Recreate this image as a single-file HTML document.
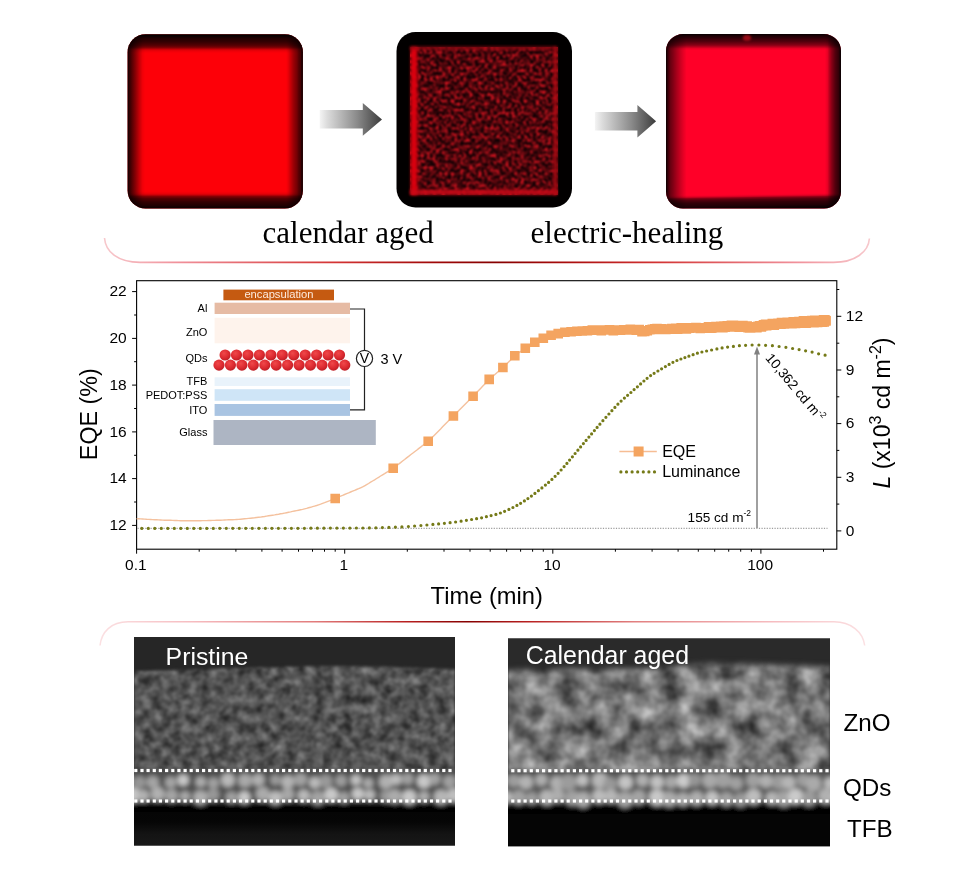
<!DOCTYPE html>
<html><head><meta charset="utf-8"><title>figure</title>
<style>
html,body{margin:0;padding:0;background:#fff;}
body{width:964px;height:877px;overflow:hidden;position:relative;}
svg{position:absolute;left:0;top:0;display:block;}
text{font-family:"Liberation Sans",Arial,sans-serif;fill:#000;}
.serif{font-family:"Liberation Serif","Times New Roman",serif;}
</style></head><body>
<svg width="964" height="877" viewBox="0 0 964 877">
<defs>

<linearGradient id="arr" x1="0" x2="1" y1="0" y2="0"><stop offset="0" stop-color="#f4f4f4"/><stop offset="0.12" stop-color="#dcdcdc"/><stop offset="0.6" stop-color="#8a8a8a"/><stop offset="1" stop-color="#3c3c3c"/></linearGradient>
<linearGradient id="brk" x1="0" x2="1" y1="0" y2="0"><stop offset="0" stop-color="#f7c8cc"/><stop offset="0.1" stop-color="#f08e98"/><stop offset="0.3" stop-color="#d43434"/><stop offset="0.43" stop-color="#a00808"/><stop offset="0.51" stop-color="#860000"/><stop offset="0.6" stop-color="#a80c0c"/><stop offset="0.72" stop-color="#d23232"/><stop offset="0.9" stop-color="#f08e98"/><stop offset="1" stop-color="#f7c8cc"/></linearGradient>
<linearGradient id="brk2" x1="0" x2="1" y1="0" y2="0"><stop offset="0" stop-color="#fbe0e2"/><stop offset="0.12" stop-color="#f6bcc0"/><stop offset="0.28" stop-color="#e27c7c"/><stop offset="0.4" stop-color="#b82020"/><stop offset="0.48" stop-color="#860000"/><stop offset="0.56" stop-color="#b82020"/><stop offset="0.7" stop-color="#e28080"/><stop offset="0.88" stop-color="#f6bcc0"/><stop offset="1" stop-color="#fbe0e2"/></linearGradient>
<radialGradient id="ball" cx="0.4" cy="0.35" r="0.7"><stop offset="0" stop-color="#f0484a"/><stop offset="0.6" stop-color="#dc2a30"/><stop offset="1" stop-color="#b81c24"/></radialGradient>
<filter id="blur35" x="-20%" y="-20%" width="140%" height="140%" color-interpolation-filters="sRGB"><feGaussianBlur stdDeviation="3.5"/></filter>
<filter id="blur45" x="-20%" y="-20%" width="140%" height="140%" color-interpolation-filters="sRGB"><feGaussianBlur stdDeviation="4.2"/></filter>
<filter id="blur1" x="-20%" y="-20%" width="140%" height="140%" color-interpolation-filters="sRGB"><feGaussianBlur stdDeviation="1"/></filter>
<filter id="blur5" x="-30%" y="-60%" width="160%" height="220%" color-interpolation-filters="sRGB"><feGaussianBlur stdDeviation="3"/></filter>
<filter id="blur2" x="-30%" y="-60%" width="160%" height="220%" color-interpolation-filters="sRGB"><feGaussianBlur stdDeviation="1.6"/></filter>
<clipPath id="c1"><rect x="127.6" y="34.2" width="175.3" height="174.4" rx="18"/></clipPath>
<clipPath id="c2"><rect x="396.5" y="32" width="175.5" height="175.5" rx="19"/></clipPath>
<clipPath id="c3"><rect x="666" y="34.1" width="175" height="174.5" rx="17"/></clipPath>
<filter id="speck" x="0" y="0" width="100%" height="100%" color-interpolation-filters="sRGB">
 <feTurbulence type="fractalNoise" baseFrequency="0.33" numOctaves="2" seed="7" result="n"/>
 <feColorMatrix in="n" type="matrix" values="3.4 0 0 0 -1.42  0 0 0 0 0  0 0 0 0 0  0 0 0 0 1"/>
 <feGaussianBlur stdDeviation="0.8"/>
 <feColorMatrix type="matrix" values="0.84 0 0 0 0.05  0.08 0 0 0 0  0.12 0 0 0 0.01  0 0 0 0 1"/>
</filter>
<filter id="zno1" x="0" y="0" width="100%" height="100%" color-interpolation-filters="sRGB">
 <feTurbulence type="fractalNoise" baseFrequency="0.105" numOctaves="3" seed="11" result="n"/>
 <feColorMatrix in="n" type="matrix" values="0.52 0 0 0 0.065  0.52 0 0 0 0.065  0.52 0 0 0 0.065  0 0 0 0 1"/>
 <feGaussianBlur stdDeviation="0.9"/>
</filter>
<filter id="zno2" x="0" y="0" width="100%" height="100%" color-interpolation-filters="sRGB">
 <feTurbulence type="fractalNoise" baseFrequency="0.05" numOctaves="3" seed="23" result="n"/>
 <feColorMatrix in="n" type="matrix" values="0.78 0 0 0 0.075  0.78 0 0 0 0.075  0.78 0 0 0 0.075  0 0 0 0 1"/>
 <feGaussianBlur stdDeviation="1.3"/>
</filter>
<filter id="qd1" x="0" y="0" width="100%" height="100%" color-interpolation-filters="sRGB">
 <feTurbulence type="fractalNoise" baseFrequency="0.075 0.06" numOctaves="1" seed="5" result="n"/>
 <feColorMatrix in="n" type="matrix" values="1.0 0 0 0 0.05  1.0 0 0 0 0.05  1.0 0 0 0 0.05  0 0 0 0 1"/>
 <feGaussianBlur stdDeviation="1.2"/>
</filter>
<filter id="qd2" x="0" y="0" width="100%" height="100%" color-interpolation-filters="sRGB">
 <feTurbulence type="fractalNoise" baseFrequency="0.06 0.05" numOctaves="1" seed="9" result="n"/>
 <feColorMatrix in="n" type="matrix" values="0.7 0 0 0 0.25  0.7 0 0 0 0.25  0.7 0 0 0 0.25  0 0 0 0 1"/>
 <feGaussianBlur stdDeviation="1.5"/>
</filter>
<filter id="qb1" x="-5%" y="-30%" width="110%" height="160%"><feGaussianBlur stdDeviation="2.4"/></filter><filter id="qb2" x="-5%" y="-30%" width="110%" height="160%"><feGaussianBlur stdDeviation="2.8"/></filter>
<linearGradient id="fadeL" x1="0" x2="0" y1="0" y2="1"><stop offset="0" stop-color="#050505"/><stop offset="0.3" stop-color="#060606"/><stop offset="0.65" stop-color="#141414"/><stop offset="1" stop-color="#181818"/></linearGradient>
<linearGradient id="fadeR" x1="0" x2="0" y1="0" y2="1"><stop offset="0" stop-color="#040404" stop-opacity="0"/><stop offset="0.24" stop-color="#040404" stop-opacity="1"/><stop offset="1" stop-color="#060606"/></linearGradient>
<clipPath id="tl"><rect x="134" y="637" width="321" height="208.5"/></clipPath>
<clipPath id="tr"><rect x="508" y="638.2" width="322" height="208"/></clipPath>

<mask id="znoclip1" maskUnits="userSpaceOnUse" x="120" y="630" width="350" height="230"><path d="M120 671.5C170 670.5 200 669 240 668C290 666.5 340 665 380 666.5C410 667.5 440 669 470 669.5V790H120Z" fill="#fff" filter="url(#blur2)"/></mask>
<mask id="znoclip2" maskUnits="userSpaceOnUse" x="495" y="630" width="350" height="230"><path d="M495 671C540 670 580 669 620 669.5C650 670 670 666 700 664.5C740 663.5 790 666 845 668V790H495Z" fill="#fff" filter="url(#blur5)"/></mask>
<linearGradient id="s1l" gradientUnits="userSpaceOnUse" x1="127.6" y1="0" x2="145.1" y2="0"><stop offset="0.000" stop-color="#000" stop-opacity="0.980"/><stop offset="0.080" stop-color="#000" stop-opacity="0.830"/><stop offset="0.274" stop-color="#000" stop-opacity="0.640"/><stop offset="0.469" stop-color="#000" stop-opacity="0.440"/><stop offset="0.663" stop-color="#000" stop-opacity="0.230"/><stop offset="0.857" stop-color="#000" stop-opacity="0.050"/><stop offset="1.000" stop-color="#000" stop-opacity="0.000"/></linearGradient><linearGradient id="s1r" gradientUnits="userSpaceOnUse" x1="302.9" y1="0" x2="285.4" y2="0"><stop offset="0.000" stop-color="#000" stop-opacity="0.980"/><stop offset="0.040" stop-color="#000" stop-opacity="0.930"/><stop offset="0.137" stop-color="#000" stop-opacity="0.730"/><stop offset="0.234" stop-color="#000" stop-opacity="0.670"/><stop offset="0.331" stop-color="#000" stop-opacity="0.550"/><stop offset="0.526" stop-color="#000" stop-opacity="0.400"/><stop offset="0.726" stop-color="#000" stop-opacity="0.200"/><stop offset="0.823" stop-color="#000" stop-opacity="0.100"/><stop offset="0.920" stop-color="#000" stop-opacity="0.020"/><stop offset="1.000" stop-color="#000" stop-opacity="0.000"/></linearGradient><linearGradient id="s1t" gradientUnits="userSpaceOnUse" x1="0" y1="34.2" x2="0" y2="53.7"><stop offset="0.000" stop-color="#000" stop-opacity="1.000"/><stop offset="0.036" stop-color="#000" stop-opacity="1.000"/><stop offset="0.205" stop-color="#000" stop-opacity="0.870"/><stop offset="0.385" stop-color="#000" stop-opacity="0.800"/><stop offset="0.564" stop-color="#000" stop-opacity="0.670"/><stop offset="0.667" stop-color="#000" stop-opacity="0.530"/><stop offset="0.738" stop-color="#000" stop-opacity="0.330"/><stop offset="0.810" stop-color="#000" stop-opacity="0.120"/><stop offset="0.913" stop-color="#000" stop-opacity="0.030"/><stop offset="1.000" stop-color="#000" stop-opacity="0.000"/></linearGradient><linearGradient id="s1b" gradientUnits="userSpaceOnUse" x1="0" y1="208.6" x2="0" y2="190.6"><stop offset="0.000" stop-color="#000" stop-opacity="0.970"/><stop offset="0.078" stop-color="#000" stop-opacity="0.930"/><stop offset="0.167" stop-color="#000" stop-opacity="0.870"/><stop offset="0.361" stop-color="#000" stop-opacity="0.800"/><stop offset="0.556" stop-color="#000" stop-opacity="0.670"/><stop offset="0.683" stop-color="#000" stop-opacity="0.470"/><stop offset="0.761" stop-color="#000" stop-opacity="0.200"/><stop offset="0.833" stop-color="#000" stop-opacity="0.080"/><stop offset="0.933" stop-color="#000" stop-opacity="0.010"/><stop offset="1.000" stop-color="#000" stop-opacity="0.000"/></linearGradient><linearGradient id="s3l" gradientUnits="userSpaceOnUse" x1="666" y1="0" x2="686.7" y2="0"><stop offset="0.000" stop-color="#000" stop-opacity="0.980"/><stop offset="0.043" stop-color="#000" stop-opacity="0.870"/><stop offset="0.208" stop-color="#000" stop-opacity="0.600"/><stop offset="0.372" stop-color="#000" stop-opacity="0.470"/><stop offset="0.536" stop-color="#000" stop-opacity="0.330"/><stop offset="0.705" stop-color="#000" stop-opacity="0.200"/><stop offset="0.870" stop-color="#000" stop-opacity="0.080"/><stop offset="1.000" stop-color="#000" stop-opacity="0.000"/></linearGradient><linearGradient id="s3r" gradientUnits="userSpaceOnUse" x1="841" y1="0" x2="824.5" y2="0"><stop offset="0.000" stop-color="#000" stop-opacity="0.980"/><stop offset="0.045" stop-color="#000" stop-opacity="0.930"/><stop offset="0.152" stop-color="#000" stop-opacity="0.800"/><stop offset="0.358" stop-color="#000" stop-opacity="0.670"/><stop offset="0.564" stop-color="#000" stop-opacity="0.470"/><stop offset="0.709" stop-color="#000" stop-opacity="0.280"/><stop offset="0.812" stop-color="#000" stop-opacity="0.100"/><stop offset="0.915" stop-color="#000" stop-opacity="0.030"/><stop offset="1.000" stop-color="#000" stop-opacity="0.000"/></linearGradient><linearGradient id="s3t" gradientUnits="userSpaceOnUse" x1="0" y1="34.1" x2="0" y2="50.3"><stop offset="0.000" stop-color="#000" stop-opacity="0.970"/><stop offset="0.046" stop-color="#000" stop-opacity="0.930"/><stop offset="0.259" stop-color="#000" stop-opacity="0.800"/><stop offset="0.469" stop-color="#000" stop-opacity="0.670"/><stop offset="0.679" stop-color="#000" stop-opacity="0.470"/><stop offset="0.784" stop-color="#000" stop-opacity="0.280"/><stop offset="0.895" stop-color="#000" stop-opacity="0.080"/><stop offset="1.000" stop-color="#000" stop-opacity="0.000"/></linearGradient><linearGradient id="s3b" gradientUnits="userSpaceOnUse" x1="0" y1="208.6" x2="0" y2="193.6"><stop offset="0.000" stop-color="#000" stop-opacity="0.970"/><stop offset="0.093" stop-color="#000" stop-opacity="0.930"/><stop offset="0.207" stop-color="#000" stop-opacity="0.870"/><stop offset="0.433" stop-color="#000" stop-opacity="0.800"/><stop offset="0.613" stop-color="#000" stop-opacity="0.670"/><stop offset="0.733" stop-color="#000" stop-opacity="0.470"/><stop offset="0.820" stop-color="#000" stop-opacity="0.180"/><stop offset="0.913" stop-color="#000" stop-opacity="0.030"/><stop offset="1.000" stop-color="#000" stop-opacity="0.000"/></linearGradient>
</defs>
<rect width="964" height="877" fill="#fff"/>

<!-- square 1 -->
<g clip-path="url(#c1)">
 <rect x="125.6" y="32.2" width="179.29999999999998" height="178.39999999999998" fill="#fd0008"/>
 <rect x="125.6" y="32.2" width="19.5" height="178.39999999999998" fill="url(#s1l)"/>
 <rect x="285.4" y="32.2" width="19.5" height="178.39999999999998" fill="url(#s1r)"/>
 <rect x="125.6" y="32.2" width="179.29999999999998" height="21.5" fill="url(#s1t)"/>
 <rect x="107.6" y="190.6" width="215.29999999999998" height="24" fill="url(#s1b)" />
 
</g>
<!-- square 2 -->
<g clip-path="url(#c2)">
 <rect x="396" y="32" width="177" height="176" fill="#020000"/>
 <rect x="410" y="47" width="147.5" height="147.7" fill="#300" />
 <rect x="410" y="47" width="147.5" height="147.7" filter="url(#speck)"/>
 <rect x="410.8" y="47" width="6.6" height="148" fill="#e2000f" filter="url(#blur2)" opacity="0.95"/>
 <rect x="410" y="189.5" width="147" height="5.5" fill="#c80a18" filter="url(#blur2)" opacity="0.9"/>
 <rect x="553.5" y="47" width="3.5" height="148" fill="#b00a14" filter="url(#blur2)" opacity="0.9"/>
 <rect x="410" y="46.5" width="147" height="3" fill="#a00a14" filter="url(#blur2)" opacity="0.8"/>
</g>
<!-- square 3 -->
<g clip-path="url(#c3)">
 <rect x="664" y="32.1" width="179" height="178.5" fill="#ff0028"/>
 <rect x="664" y="32.1" width="22.7" height="178.5" fill="url(#s3l)"/>
 <rect x="824.5" y="32.1" width="18.5" height="178.5" fill="url(#s3r)"/>
 <rect x="664" y="32.1" width="179" height="18.2" fill="url(#s3t)"/>
 <rect x="646" y="193.6" width="215" height="21" fill="url(#s3b)" transform="rotate(-0.86 755 208.6)"/>
 <ellipse cx="747" cy="38" rx="4.2" ry="3" fill="#9a0c18" filter="url(#blur1)"/>
</g>
<!-- arrows -->
<path d="M319.7 110H362.8V103L382 119.4L362.8 135.8V128.5H319.7Z" fill="url(#arr)"/>
<path d="M594.9 112H637.4V104.9L656.1 121.3L637.4 137.6V130.6H594.9Z" fill="url(#arr)"/>
<text class="serif" x="262.6" y="243.2" font-size="31">calendar aged</text>
<text class="serif" x="530.6" y="243.2" font-size="31">electric-healing</text>
<path d="M104.5 238C105.5 252 118 262.4 140 262.4H833.5C855 262.4 868.5 252 869.4 238.5" fill="none" stroke="url(#brk)" stroke-width="1.6"/>


<g font-size="15.5">
<rect x="136.6" y="280.7" width="700.2" height="268.5" fill="none" stroke="#000" stroke-width="1.1"/>
<path d="M132.1 525.4H136.6M134.1 502.0H136.6M132.1 478.6H136.6M134.1 455.3H136.6M132.1 431.9H136.6M134.1 408.5H136.6M132.1 385.1H136.6M134.1 361.7H136.6M132.1 338.4H136.6M134.1 315.0H136.6M132.1 291.6H136.6M836.8 530.9h4.5M836.8 504.1h2.5M836.8 477.3h4.5M836.8 450.4h2.5M836.8 423.6h4.5M836.8 396.8h2.5M836.8 370.0h4.5M836.8 343.2h2.5M836.8 316.3h4.5M836.8 289.5h2.5M136.6 549.2v4.5M199.2 549.2v2.5M235.9 549.2v2.5M261.9 549.2v2.5M282.1 549.2v2.5M298.5 549.2v2.5M312.5 549.2v2.5M324.5 549.2v2.5M335.2 549.2v2.5M344.7 549.2v4.5M407.3 549.2v2.5M444.0 549.2v2.5M470.0 549.2v2.5M490.2 549.2v2.5M506.6 549.2v2.5M520.6 549.2v2.5M532.6 549.2v2.5M543.3 549.2v2.5M552.8 549.2v4.5M615.4 549.2v2.5M652.1 549.2v2.5M678.1 549.2v2.5M698.3 549.2v2.5M714.7 549.2v2.5M728.7 549.2v2.5M740.7 549.2v2.5M751.4 549.2v2.5M760.9 549.2v4.5M823.5 549.2v2.5" stroke="#000" stroke-width="1" fill="none"/>
<text x="126.7" y="530.0" text-anchor="end">12</text><text x="126.7" y="483.2" text-anchor="end">14</text><text x="126.7" y="436.5" text-anchor="end">16</text><text x="126.7" y="389.7" text-anchor="end">18</text><text x="126.7" y="343.0" text-anchor="end">20</text><text x="126.7" y="296.2" text-anchor="end">22</text><text x="845.8" y="535.7">0</text><text x="845.8" y="482.1">3</text><text x="845.8" y="428.4">6</text><text x="845.8" y="374.8">9</text><text x="845.8" y="321.1">12</text><text x="135.8" y="570.4" text-anchor="middle">0.1</text><text x="343.9" y="570.4" text-anchor="middle">1</text><text x="552.0" y="570.4" text-anchor="middle">10</text><text x="760.1" y="570.4" text-anchor="middle">100</text>
</g>
<text font-size="23.3" text-anchor="middle" transform="translate(96.8 414.2) rotate(-90)">EQE (%)</text>
<text font-size="23" text-anchor="middle" transform="translate(890.3 413) rotate(-90)"><tspan font-style="italic">L</tspan> (x10<tspan font-size="16" dy="-9.5">3</tspan><tspan dy="9.5"> cd m</tspan><tspan font-size="16" dy="-9.5">-2</tspan><tspan dy="9.5">)</tspan></text>
<text font-size="23.7" x="430.6" y="604.3">Time (min)</text>
<!-- device inset -->
<g font-size="11">
<rect x="223.4" y="289.6" width="110.6" height="10.7" fill="#c55a11"/>
<text x="278.9" y="298.3" font-size="11.2" text-anchor="middle" style="fill:#fdebdf">encapsulation</text>
<rect x="214.6" y="302.7" width="135.4" height="11.3" fill="#e6bba4"/>
<rect x="214.6" y="317.8" width="135.4" height="25.5" fill="#fef3ec"/>
<circle cx="219.0" cy="365.1" r="5.6" fill="url(#ball)"/><circle cx="230.4" cy="365.1" r="5.6" fill="url(#ball)"/><circle cx="241.9" cy="365.1" r="5.6" fill="url(#ball)"/><circle cx="253.3" cy="365.1" r="5.6" fill="url(#ball)"/><circle cx="264.8" cy="365.1" r="5.6" fill="url(#ball)"/><circle cx="276.2" cy="365.1" r="5.6" fill="url(#ball)"/><circle cx="287.6" cy="365.1" r="5.6" fill="url(#ball)"/><circle cx="299.1" cy="365.1" r="5.6" fill="url(#ball)"/><circle cx="310.5" cy="365.1" r="5.6" fill="url(#ball)"/><circle cx="322.0" cy="365.1" r="5.6" fill="url(#ball)"/><circle cx="333.4" cy="365.1" r="5.6" fill="url(#ball)"/><circle cx="344.8" cy="365.1" r="5.6" fill="url(#ball)"/><circle cx="225.1" cy="355" r="5.6" fill="url(#ball)"/><circle cx="236.5" cy="355" r="5.6" fill="url(#ball)"/><circle cx="248.0" cy="355" r="5.6" fill="url(#ball)"/><circle cx="259.4" cy="355" r="5.6" fill="url(#ball)"/><circle cx="270.9" cy="355" r="5.6" fill="url(#ball)"/><circle cx="282.3" cy="355" r="5.6" fill="url(#ball)"/><circle cx="293.7" cy="355" r="5.6" fill="url(#ball)"/><circle cx="305.2" cy="355" r="5.6" fill="url(#ball)"/><circle cx="316.6" cy="355" r="5.6" fill="url(#ball)"/><circle cx="328.1" cy="355" r="5.6" fill="url(#ball)"/><circle cx="339.5" cy="355" r="5.6" fill="url(#ball)"/>
<rect x="214.6" y="377.3" width="135.4" height="8.7" fill="#e9f3fb"/>
<rect x="214.6" y="389.2" width="135.4" height="11.6" fill="#cfe5f7"/>
<rect x="214.6" y="404" width="135.4" height="11.9" fill="#a9c4e2"/>
<rect x="213.5" y="420" width="162.3" height="25" fill="#adb5c3"/>
<g text-anchor="end" style="fill:#222">
<text x="207.4" y="312.4">Al</text><text x="207.4" y="335.6">ZnO</text><text x="207.4" y="362.3">QDs</text><text x="207.4" y="385">TFB</text><text x="207.4" y="399.3">PEDOT:PSS</text><text x="207.4" y="414">ITO</text><text x="207.4" y="435.9">Glass</text>
</g>
<path d="M350 309H364.5V350.3M364.5 366.5V409.8H350" fill="none" stroke="#222" stroke-width="1.2"/>
<circle cx="364.5" cy="358.4" r="8.1" fill="#fff" stroke="#222" stroke-width="1.2"/>
<text x="364.5" y="363.4" font-size="14" text-anchor="middle">V</text>
<text x="380.5" y="363.5" font-size="14.5">3 V</text>
</g>
<!-- zero dotted -->
<path d="M137.5 528.3H827.5" stroke="#777" stroke-width="0.9" stroke-dasharray="1.2 1.4" fill="none"/>
<!-- EQE -->
<path d="M136.6 518.8 L138.6 518.8 L140.6 518.9 L142.6 519.0 L144.6 519.1 L146.6 519.3 L148.6 519.4 L150.6 519.5 L152.6 519.6 L154.6 519.7 L156.6 519.8 L158.6 519.9 L160.6 520.0 L162.6 520.1 L164.6 520.2 L166.6 520.2 L168.6 520.3 L170.6 520.3 L172.6 520.4 L174.6 520.5 L176.6 520.5 L178.6 520.6 L180.6 520.7 L182.6 520.7 L184.6 520.8 L186.6 520.8 L188.6 520.8 L190.6 520.8 L192.6 520.8 L194.6 520.8 L196.6 520.7 L198.6 520.7 L200.6 520.7 L202.6 520.6 L204.6 520.6 L206.6 520.6 L208.6 520.5 L210.6 520.5 L212.6 520.4 L214.6 520.4 L216.6 520.3 L218.6 520.2 L220.6 520.2 L222.6 520.1 L224.6 520.0 L226.6 519.9 L228.6 519.8 L230.6 519.8 L232.6 519.7 L234.6 519.6 L236.6 519.5 L238.6 519.4 L240.6 519.2 L242.6 519.0 L244.6 518.8 L246.6 518.6 L248.6 518.4 L250.6 518.2 L252.6 518.0 L254.6 517.8 L256.6 517.5 L258.6 517.3 L260.6 517.1 L262.6 516.8 L264.6 516.5 L266.6 516.1 L268.6 515.8 L270.6 515.5 L272.6 515.2 L274.6 514.9 L276.6 514.5 L278.6 514.2 L280.6 513.8 L282.6 513.5 L284.6 513.1 L286.6 512.7 L288.6 512.3 L290.6 511.9 L292.6 511.4 L294.6 511.0 L296.6 510.6 L298.6 510.2 L300.6 509.8 L302.6 509.4 L304.6 508.9 L306.6 508.4 L308.6 507.8 L310.6 507.3 L312.6 506.7 L314.6 506.1 L316.6 505.5 L318.6 504.8 L320.6 504.2 L322.6 503.4 L324.6 502.7 L326.6 501.9 L328.6 501.1 L330.6 500.3 L332.6 499.5 L334.6 498.7 L336.6 497.9 L338.6 497.0 L340.6 496.2 L342.6 495.4 L344.6 494.5 L346.6 493.7 L348.6 492.9 L350.6 492.0 L352.6 491.2 L354.6 490.4 L356.6 489.5 L358.6 488.7 L360.6 487.8 L362.6 486.9 L364.6 485.8 L366.6 484.7 L368.6 483.5 L370.6 482.2 L372.6 481.0 L374.6 479.8 L376.6 478.5 L378.6 477.3 L380.6 476.0 L382.6 474.8 L384.6 473.6 L386.6 472.3 L388.6 471.1 L390.6 469.8 L392.6 468.5 L394.6 467.1 L396.6 465.6 L398.6 464.1 L400.6 462.6 L402.6 461.0 L404.6 459.5 L406.6 457.9 L408.6 456.4 L410.6 454.8 L412.6 453.3 L414.6 451.7 L416.6 450.2 L418.6 448.6 L420.6 447.1 L422.6 445.5 L424.6 444.0 L426.6 442.3 L428.6 440.6 L430.6 438.8 L432.6 436.9 L434.6 434.9 L436.6 432.9 L438.6 430.9 L440.6 428.9 L442.6 426.8 L444.6 424.8 L446.6 422.8 L448.6 420.8 L450.6 418.8 L452.6 416.8 L454.6 414.8 L456.6 412.8 L458.6 410.8 L460.6 408.8 L462.6 406.8 L464.6 404.8 L466.6 402.8 L468.6 400.8 L470.6 398.8 L472.6 396.8 L474.6 394.7 L476.6 392.6 L478.6 390.5 L480.6 388.4 L482.6 386.3 L484.6 384.2 L486.6 382.2 L488.6 380.2 L490.6 378.3 L492.6 376.5 L494.6 374.7 L496.6 373.0 L498.6 371.3 L500.6 369.5 L502.6 367.7 L504.6 365.8 L506.6 363.9 L508.6 361.9 L510.6 359.9 L512.6 358.0 L514.6 356.2 L516.6 354.5 L518.6 353.0 L520.6 351.5 L522.6 350.1 L524.6 348.8 L526.6 347.4 L528.6 346.2 L530.6 344.9 L532.6 343.7 L534.6 342.6 L536.6 341.5 L538.6 340.5 L540.6 339.6 L542.6 338.7 L544.6 337.8 L546.6 337.0 L548.6 336.2 L550.6 335.5 L552.6 334.9 L554.6 334.4 L556.6 333.9 L558.6 333.5 L560.6 333.1 L562.6 332.8 L564.6 332.5 L566.6 332.2 L568.6 332.0 L570.6 331.9 L572.6 331.7 L574.6 331.5 L576.6 331.4 L578.6 331.2 L580.6 331.1 L582.6 330.9 L584.6 330.8 L586.6 330.7 L588.6 330.6 L590.6 330.5 L592.6 330.5 L594.6 330.5 L596.6 330.4 L598.6 330.4 L600.6 330.3 L602.6 330.3 L604.6 330.3 L606.6 330.2 L608.6 330.2 L610.6 330.2 L612.6 330.1 L614.6 330.1 L616.6 330.1 L618.6 330.0 L620.6 330.0 L622.6 329.9 L624.6 329.9 L626.6 329.9 L628.6 329.8 L630.6 329.8 L632.6 329.7 L634.6 329.7 L636.6 329.7 L638.6 329.6 L640.6 329.6 L642.6 329.5 L644.6 329.5 L646.6 329.4 L648.6 329.4 L650.6 329.3 L652.6 329.2 L654.6 329.2 L656.6 329.1 L658.6 329.1 L660.6 329.0 L662.6 328.9 L664.6 328.9 L666.6 328.8 L668.6 328.7 L670.6 328.7 L672.6 328.6 L674.6 328.6 L676.6 328.5 L678.6 328.4 L680.6 328.4 L682.6 328.3 L684.6 328.2 L686.6 328.2 L688.6 328.1 L690.6 328.0 L692.6 328.0 L694.6 327.9 L696.6 327.8 L698.6 327.8 L700.6 327.7 L702.6 327.6 L704.6 327.5 L706.6 327.5 L708.6 327.4 L710.6 327.3 L712.6 327.3 L714.6 327.2 L716.6 327.1 L718.6 327.0 L720.6 326.9 L722.6 326.8 L724.6 326.7 L726.6 326.6 L728.6 326.5 L730.6 326.3 L732.6 326.2 L734.6 326.2 L736.6 326.2 L738.6 326.3 L740.6 326.4 L742.6 326.5 L744.6 326.7 L746.6 326.8 L748.6 327.0 L750.6 327.1 L752.6 327.0 L754.6 326.9 L756.6 326.7 L758.6 326.4 L760.6 326.1 L762.6 325.8 L764.6 325.6 L766.6 325.3 L768.6 325.0 L770.6 324.8 L772.6 324.5 L774.6 324.3 L776.6 324.0 L778.6 323.8 L780.6 323.6 L782.6 323.5 L784.6 323.3 L786.6 323.2 L788.6 323.1 L790.6 322.9 L792.6 322.8 L794.6 322.7 L796.6 322.5 L798.6 322.4 L800.6 322.3 L802.6 322.2 L804.6 322.1 L806.6 322.0 L808.6 321.9 L810.6 321.7 L812.6 321.6 L814.6 321.5 L816.6 321.4 L818.6 321.3 L820.6 321.2 L822.6 321.1 L824.6 321.1" fill="none" stroke="#f4c19e" stroke-width="1.4"/>
<path d="M330.4 493.7h9.6v9.6h-9.6zM388.4 463.5h9.6v9.6h-9.6zM423.4 436.4h9.6v9.6h-9.6zM448.6 411.2h9.6v9.6h-9.6zM468.3 391.5h9.6v9.6h-9.6zM484.4 374.6h9.6v9.6h-9.6zM498.1 362.7h9.6v9.6h-9.6zM510.0 350.9h9.6v9.6h-9.6zM520.5 343.4h9.6v9.6h-9.6zM530.0 337.5h9.6v9.6h-9.6zM538.5 333.5h9.6v9.6h-9.6zM546.3 330.5h9.6v9.6h-9.6zM553.4 328.8h9.6v9.6h-9.6zM560.1 327.4h9.6v9.6h-9.6zM566.3 327.0h9.6v9.6h-9.6zM572.1 326.5h9.6v9.6h-9.6zM577.5 326.2h9.6v9.6h-9.6zM582.6 325.9h9.6v9.6h-9.6zM587.5 325.3h9.6v9.6h-9.6zM592.1 325.2h9.6v9.6h-9.6zM596.5 325.8h9.6v9.6h-9.6zM600.7 325.2h9.6v9.6h-9.6zM604.7 325.1h9.6v9.6h-9.6zM608.5 325.8h9.6v9.6h-9.6zM612.2 325.2h9.6v9.6h-9.6zM615.7 325.5h9.6v9.6h-9.6zM619.1 325.1h9.6v9.6h-9.6zM622.4 325.2h9.6v9.6h-9.6zM625.5 324.6h9.6v9.6h-9.6zM628.6 325.1h9.6v9.6h-9.6zM631.5 325.3h9.6v9.6h-9.6zM634.4 324.8h9.6v9.6h-9.6zM637.2 326.8h9.6v9.6h-9.6zM639.9 326.7h9.6v9.6h-9.6zM642.5 325.9h9.6v9.6h-9.6zM645.0 324.9h9.6v9.6h-9.6zM647.5 324.6h9.6v9.6h-9.6zM649.9 324.1h9.6v9.6h-9.6zM652.2 323.7h9.6v9.6h-9.6zM654.5 324.7h9.6v9.6h-9.6zM656.7 324.1h9.6v9.6h-9.6zM658.9 324.4h9.6v9.6h-9.6zM661.0 324.6h9.6v9.6h-9.6zM663.1 324.3h9.6v9.6h-9.6zM665.1 324.5h9.6v9.6h-9.6zM667.1 323.7h9.6v9.6h-9.6zM669.0 324.2h9.6v9.6h-9.6zM670.9 323.6h9.6v9.6h-9.6zM672.8 324.3h9.6v9.6h-9.6zM674.6 324.2h9.6v9.6h-9.6zM676.4 322.9h9.6v9.6h-9.6zM678.1 322.9h9.6v9.6h-9.6zM679.9 323.0h9.6v9.6h-9.6zM681.6 324.1h9.6v9.6h-9.6zM683.2 323.2h9.6v9.6h-9.6zM684.8 323.5h9.6v9.6h-9.6zM686.4 322.9h9.6v9.6h-9.6zM688.0 323.2h9.6v9.6h-9.6zM689.5 322.9h9.6v9.6h-9.6zM691.1 322.8h9.6v9.6h-9.6zM692.5 323.1h9.6v9.6h-9.6zM694.0 323.1h9.6v9.6h-9.6zM695.5 323.6h9.6v9.6h-9.6zM696.9 323.1h9.6v9.6h-9.6zM698.3 323.5h9.6v9.6h-9.6zM699.7 323.3h9.6v9.6h-9.6zM701.0 323.5h9.6v9.6h-9.6zM702.3 322.9h9.6v9.6h-9.6zM703.7 322.0h9.6v9.6h-9.6zM705.0 323.2h9.6v9.6h-9.6zM706.2 323.3h9.6v9.6h-9.6zM707.5 323.2h9.6v9.6h-9.6zM708.8 322.5h9.6v9.6h-9.6zM710.0 322.8h9.6v9.6h-9.6zM711.2 321.8h9.6v9.6h-9.6zM712.4 322.9h9.6v9.6h-9.6zM713.6 322.4h9.6v9.6h-9.6zM714.7 321.8h9.6v9.6h-9.6zM715.9 321.4h9.6v9.6h-9.6zM717.0 322.7h9.6v9.6h-9.6zM718.1 322.9h9.6v9.6h-9.6zM719.2 321.2h9.6v9.6h-9.6zM720.3 322.4h9.6v9.6h-9.6zM721.4 321.6h9.6v9.6h-9.6zM722.5 321.1h9.6v9.6h-9.6zM723.5 321.3h9.6v9.6h-9.6zM724.6 322.1h9.6v9.6h-9.6zM725.6 322.2h9.6v9.6h-9.6zM726.6 320.6h9.6v9.6h-9.6zM727.6 321.6h9.6v9.6h-9.6zM728.6 320.5h9.6v9.6h-9.6zM729.6 321.7h9.6v9.6h-9.6zM730.6 320.9h9.6v9.6h-9.6zM731.6 322.0h9.6v9.6h-9.6zM732.5 322.2h9.6v9.6h-9.6zM733.5 321.4h9.6v9.6h-9.6zM734.4 322.4h9.6v9.6h-9.6zM735.3 321.2h9.6v9.6h-9.6zM736.2 320.8h9.6v9.6h-9.6zM737.2 321.9h9.6v9.6h-9.6zM738.1 320.8h9.6v9.6h-9.6zM738.9 321.2h9.6v9.6h-9.6zM739.8 321.7h9.6v9.6h-9.6zM740.7 322.2h9.6v9.6h-9.6zM741.6 321.3h9.6v9.6h-9.6zM742.4 321.2h9.6v9.6h-9.6zM743.3 322.9h9.6v9.6h-9.6zM744.1 321.9h9.6v9.6h-9.6zM744.9 323.2h9.6v9.6h-9.6zM745.8 323.2h9.6v9.6h-9.6zM746.6 322.2h9.6v9.6h-9.6zM747.4 322.4h9.6v9.6h-9.6zM748.2 322.5h9.6v9.6h-9.6zM749.0 322.6h9.6v9.6h-9.6zM749.8 322.4h9.6v9.6h-9.6zM750.6 322.2h9.6v9.6h-9.6zM751.3 322.2h9.6v9.6h-9.6zM752.1 322.8h9.6v9.6h-9.6zM752.9 321.8h9.6v9.6h-9.6zM753.6 321.5h9.6v9.6h-9.6zM754.4 322.0h9.6v9.6h-9.6zM755.1 320.9h9.6v9.6h-9.6zM755.8 320.9h9.6v9.6h-9.6zM756.6 322.2h9.6v9.6h-9.6zM757.3 321.2h9.6v9.6h-9.6zM758.0 321.1h9.6v9.6h-9.6zM758.7 319.9h9.6v9.6h-9.6zM759.4 320.6h9.6v9.6h-9.6zM760.1 320.9h9.6v9.6h-9.6zM760.8 319.6h9.6v9.6h-9.6zM761.5 320.8h9.6v9.6h-9.6zM762.2 320.7h9.6v9.6h-9.6zM762.9 319.4h9.6v9.6h-9.6zM763.6 320.5h9.6v9.6h-9.6zM764.3 320.1h9.6v9.6h-9.6zM764.9 320.5h9.6v9.6h-9.6zM765.6 319.7h9.6v9.6h-9.6zM766.2 320.4h9.6v9.6h-9.6zM766.9 320.4h9.6v9.6h-9.6zM767.5 318.7h9.6v9.6h-9.6zM768.2 318.7h9.6v9.6h-9.6zM768.8 320.0h9.6v9.6h-9.6zM769.5 320.5h9.6v9.6h-9.6zM770.1 318.9h9.6v9.6h-9.6zM770.7 319.3h9.6v9.6h-9.6zM771.3 319.5h9.6v9.6h-9.6zM771.9 318.8h9.6v9.6h-9.6zM772.6 318.8h9.6v9.6h-9.6zM773.2 318.6h9.6v9.6h-9.6zM773.8 318.7h9.6v9.6h-9.6zM774.4 319.1h9.6v9.6h-9.6zM775.0 318.4h9.6v9.6h-9.6zM775.6 318.5h9.6v9.6h-9.6zM776.1 319.4h9.6v9.6h-9.6zM776.7 317.7h9.6v9.6h-9.6zM777.3 318.8h9.6v9.6h-9.6zM777.9 319.2h9.6v9.6h-9.6zM778.5 318.2h9.6v9.6h-9.6zM779.0 318.0h9.6v9.6h-9.6zM779.6 319.2h9.6v9.6h-9.6zM780.2 317.9h9.6v9.6h-9.6zM780.7 317.8h9.6v9.6h-9.6zM781.3 318.3h9.6v9.6h-9.6zM781.8 318.8h9.6v9.6h-9.6zM782.4 317.4h9.6v9.6h-9.6zM782.9 317.9h9.6v9.6h-9.6zM783.5 317.9h9.6v9.6h-9.6zM784.0 319.0h9.6v9.6h-9.6zM784.5 318.1h9.6v9.6h-9.6zM785.1 319.0h9.6v9.6h-9.6zM785.6 317.4h9.6v9.6h-9.6zM786.1 317.7h9.6v9.6h-9.6zM786.7 318.4h9.6v9.6h-9.6zM787.2 318.9h9.6v9.6h-9.6zM787.7 317.9h9.6v9.6h-9.6zM788.2 317.3h9.6v9.6h-9.6zM788.7 317.0h9.6v9.6h-9.6zM789.2 318.0h9.6v9.6h-9.6zM789.7 317.1h9.6v9.6h-9.6zM790.2 318.5h9.6v9.6h-9.6zM790.7 318.6h9.6v9.6h-9.6zM791.2 317.0h9.6v9.6h-9.6zM791.7 317.2h9.6v9.6h-9.6zM792.2 318.4h9.6v9.6h-9.6zM792.7 318.0h9.6v9.6h-9.6zM793.2 318.4h9.6v9.6h-9.6zM793.7 317.2h9.6v9.6h-9.6zM794.2 316.7h9.6v9.6h-9.6zM794.6 317.0h9.6v9.6h-9.6zM795.1 318.2h9.6v9.6h-9.6zM795.6 316.9h9.6v9.6h-9.6zM796.1 317.1h9.6v9.6h-9.6zM796.5 317.2h9.6v9.6h-9.6zM797.0 317.2h9.6v9.6h-9.6zM797.5 317.2h9.6v9.6h-9.6zM797.9 318.4h9.6v9.6h-9.6zM798.4 316.5h9.6v9.6h-9.6zM798.8 316.1h9.6v9.6h-9.6zM799.3 318.4h9.6v9.6h-9.6zM799.8 318.2h9.6v9.6h-9.6zM800.2 318.4h9.6v9.6h-9.6zM800.6 317.1h9.6v9.6h-9.6zM801.1 318.3h9.6v9.6h-9.6zM801.5 318.2h9.6v9.6h-9.6zM802.0 316.5h9.6v9.6h-9.6zM802.4 317.7h9.6v9.6h-9.6zM802.9 317.9h9.6v9.6h-9.6zM803.3 317.5h9.6v9.6h-9.6zM803.7 317.1h9.6v9.6h-9.6zM804.2 316.5h9.6v9.6h-9.6zM804.6 316.6h9.6v9.6h-9.6zM805.0 316.3h9.6v9.6h-9.6zM805.4 315.9h9.6v9.6h-9.6zM805.9 317.2h9.6v9.6h-9.6zM806.3 316.4h9.6v9.6h-9.6zM806.7 317.7h9.6v9.6h-9.6zM807.1 315.8h9.6v9.6h-9.6zM807.5 317.9h9.6v9.6h-9.6zM807.9 317.3h9.6v9.6h-9.6zM808.4 317.9h9.6v9.6h-9.6zM808.8 317.8h9.6v9.6h-9.6zM809.2 317.8h9.6v9.6h-9.6zM809.6 316.9h9.6v9.6h-9.6zM810.0 315.5h9.6v9.6h-9.6zM810.4 317.3h9.6v9.6h-9.6zM810.8 315.9h9.6v9.6h-9.6zM811.2 316.2h9.6v9.6h-9.6zM811.6 317.1h9.6v9.6h-9.6zM812.0 316.7h9.6v9.6h-9.6zM812.4 316.4h9.6v9.6h-9.6zM812.8 317.7h9.6v9.6h-9.6zM813.2 316.8h9.6v9.6h-9.6zM813.5 316.1h9.6v9.6h-9.6zM813.9 315.9h9.6v9.6h-9.6zM814.3 317.4h9.6v9.6h-9.6zM814.7 316.4h9.6v9.6h-9.6zM815.1 317.2h9.6v9.6h-9.6zM815.5 316.1h9.6v9.6h-9.6zM815.8 315.7h9.6v9.6h-9.6zM816.2 316.5h9.6v9.6h-9.6zM816.6 317.2h9.6v9.6h-9.6zM817.0 315.5h9.6v9.6h-9.6zM817.3 317.1h9.6v9.6h-9.6zM817.7 317.4h9.6v9.6h-9.6zM818.1 317.1h9.6v9.6h-9.6zM818.5 317.1h9.6v9.6h-9.6zM818.8 315.0h9.6v9.6h-9.6zM819.2 316.6h9.6v9.6h-9.6zM819.5 317.2h9.6v9.6h-9.6zM819.9 315.1h9.6v9.6h-9.6zM820.3 315.6h9.6v9.6h-9.6zM820.6 315.6h9.6v9.6h-9.6zM821.0 316.2h9.6v9.6h-9.6zM821.3 315.9h9.6v9.6h-9.6z" fill="#f4a460"/>
<!-- luminance -->
<path d="M825.1 355.2h0M818.6 353.8h0M812.1 352.1h0M805.6 350.8h0M799.1 349.6h0M792.6 348.5h0M785.9 347.3h0M779.1 346.5h0M772.4 345.7h0M765.6 345.3h0M758.9 345.0h0M752.1 345.0h0M745.6 345.3h0M739.4 345.7h0M733.4 346.4h0M727.6 347.1h0M722.1 347.9h0M716.9 348.9h0M711.6 350.0h0M706.6 351.0h0M701.9 352.0h0M697.4 353.2h0M693.1 354.7h0M688.9 356.2h0M684.9 357.6h0M680.9 359.0h0M676.9 360.5h0M672.9 362.3h0M669.1 364.4h0M665.4 366.6h0M661.6 368.8h0M657.9 371.0h0M654.1 373.3h0M650.6 375.6h0M647.1 378.3h0M643.9 381.0h0M640.6 383.9h0M637.4 386.8h0M634.1 389.6h0M630.9 392.5h0M627.6 395.3h0M624.4 398.1h0M621.1 401.1h0M617.9 404.2h0M614.9 407.4h0M611.9 410.7h0M608.9 414.0h0M605.9 417.3h0M602.9 420.7h0M599.9 424.2h0M597.1 427.4h0M594.4 430.6h0M591.6 433.9h0M588.9 437.1h0M586.1 440.4h0M583.4 443.6h0M580.6 446.9h0M577.9 450.2h0M575.1 453.5h0M572.4 456.8h0M569.6 460.1h0M566.9 463.4h0M564.1 466.6h0M561.1 470.0h0M558.1 473.3h0M555.1 476.3h0M551.9 479.4h0M548.6 482.4h0M545.4 485.1h0M541.9 487.9h0M538.4 490.7h0M534.9 493.4h0M531.4 496.1h0M527.9 498.6h0M524.4 500.9h0M520.6 503.3h0M516.9 505.4h0M512.9 507.5h0M508.9 509.4h0M504.6 511.3h0M500.4 513.0h0M495.9 514.4h0M491.1 515.6h0M486.4 516.7h0M481.6 517.8h0M476.6 518.7h0M471.6 519.5h0M466.4 520.3h0M461.1 521.2h0M455.6 522.0h0M450.1 522.7h0M444.4 523.3h0M438.6 523.9h0M432.9 524.4h0M426.9 525.0h0M420.9 525.5h0M414.6 526.0h0M408.4 526.5h0M401.9 526.9h0M395.4 527.2h0M388.9 527.4h0M382.4 527.6h0M375.9 527.8h0M369.4 527.9h0M362.9 528.0h0M356.4 528.0h0M349.9 528.1h0M343.4 528.1h0M336.9 528.1h0M330.4 528.1h0M323.9 528.2h0M317.4 528.2h0M310.9 528.2h0M304.4 528.3h0M297.9 528.3h0M291.4 528.3h0M284.9 528.3h0M278.4 528.3h0M271.9 528.3h0M265.4 528.3h0M258.9 528.3h0M252.3 528.3h0M245.8 528.3h0M239.3 528.3h0M232.8 528.3h0M226.3 528.3h0M219.8 528.3h0M213.3 528.4h0M206.8 528.4h0M200.3 528.4h0M193.8 528.4h0M187.3 528.4h0M180.8 528.4h0M174.3 528.4h0M167.8 528.4h0M161.3 528.4h0M154.8 528.4h0M148.3 528.4h0M141.8 528.4h0" fill="none" stroke="#757a18" stroke-width="3.2" stroke-linecap="round"/>
<!-- arrow -->
<path d="M757 527.9V352" stroke="#808080" stroke-width="1.5" fill="none"/>
<path d="M757 346.5L760 354.5H754Z" fill="#808080"/>
<text font-size="13.6" x="687.6" y="521.7">155 cd m<tspan font-size="8.5" dy="-5.5">-2</tspan></text>
<text font-size="13.8" transform="translate(764.8 358.2) rotate(50)">10,362 cd m<tspan font-size="8.5" dy="-5.5">-2</tspan></text>
<!-- legend -->
<path d="M619.4 451.5H656.8" stroke="#f6bd94" stroke-width="1.6"/>
<rect x="633.6" y="446.5" width="10" height="10" fill="#f4a460"/>
<text font-size="16" x="662.2" y="457">EQE</text>
<path d="M620.9 471.9H656" stroke="#757a18" stroke-width="3.2" stroke-linecap="round" stroke-dasharray="0 5.6" fill="none"/>
<text font-size="16" x="662.2" y="476.6">Luminance</text>


<path d="M100 645.5C101.5 632 111 621.8 128 621.8H834C851 621.8 863 632 864.7 645.5" fill="none" stroke="url(#brk2)" stroke-width="1.5"/>
<!-- left TEM -->
<g clip-path="url(#tl)">
<rect x="134" y="637" width="321" height="209" fill="#262626"/>
<g mask="url(#znoclip1)"><rect x="134" y="660" width="321" height="113" filter="url(#zno1)"/></g>
<g filter="url(#qb1)"><rect x="114" y="770" width="361" height="32.5" fill="#505050"/><rect x="114" y="802.5" width="361" height="30" fill="#050505"/><circle cx="126.9" cy="780.9" r="6.0" fill="rgb(165,165,165)"/><circle cx="139.6" cy="782.3" r="6.2" fill="rgb(151,151,151)"/><circle cx="152.7" cy="782.2" r="6.4" fill="rgb(164,164,164)"/><circle cx="170.6" cy="782.4" r="5.8" fill="rgb(166,166,166)"/><circle cx="183.1" cy="780.1" r="5.9" fill="rgb(201,201,201)"/><circle cx="200.7" cy="781.8" r="5.5" fill="rgb(173,173,173)"/><circle cx="213.4" cy="783.0" r="5.8" fill="rgb(161,161,161)"/><circle cx="227.9" cy="780.1" r="7.1" fill="rgb(185,185,185)"/><circle cx="245.0" cy="780.6" r="7.2" fill="rgb(169,169,169)"/><circle cx="258.4" cy="779.9" r="6.3" fill="rgb(177,177,177)"/><circle cx="275.4" cy="780.0" r="5.4" fill="rgb(155,155,155)"/><circle cx="287.7" cy="781.8" r="6.8" fill="rgb(180,180,180)"/><circle cx="300.7" cy="779.6" r="6.7" fill="rgb(162,162,162)"/><circle cx="314.8" cy="782.8" r="6.0" fill="rgb(187,187,187)"/><circle cx="325.7" cy="781.4" r="6.9" fill="rgb(153,153,153)"/><circle cx="341.1" cy="780.8" r="6.0" fill="rgb(157,157,157)"/><circle cx="356.0" cy="780.1" r="5.5" fill="rgb(194,194,194)"/><circle cx="368.2" cy="783.1" r="5.3" fill="rgb(170,170,170)"/><circle cx="385.9" cy="781.8" r="7.2" fill="rgb(176,176,176)"/><circle cx="396.0" cy="779.4" r="5.7" fill="rgb(189,189,189)"/><circle cx="407.7" cy="779.0" r="6.0" fill="rgb(160,160,160)"/><circle cx="424.0" cy="781.3" r="7.1" fill="rgb(200,200,200)"/><circle cx="434.5" cy="779.1" r="6.2" fill="rgb(163,163,163)"/><circle cx="449.4" cy="781.5" r="6.6" fill="rgb(160,160,160)"/><circle cx="463.7" cy="779.3" r="5.8" fill="rgb(187,187,187)"/><circle cx="133.1" cy="794.7" r="7.5" fill="rgb(199,199,199)"/><circle cx="143.2" cy="795.7" r="6.2" fill="rgb(178,178,178)"/><circle cx="157.7" cy="793.9" r="7.1" fill="rgb(177,177,177)"/><circle cx="171.6" cy="795.6" r="6.5" fill="rgb(165,165,165)"/><circle cx="185.0" cy="796.3" r="5.4" fill="rgb(170,170,170)"/><circle cx="200.4" cy="797.6" r="7.4" fill="rgb(175,175,175)"/><circle cx="213.2" cy="794.7" r="6.4" fill="rgb(152,152,152)"/><circle cx="231.4" cy="797.3" r="6.0" fill="rgb(160,160,160)"/><circle cx="244.3" cy="797.3" r="6.2" fill="rgb(202,202,202)"/><circle cx="262.8" cy="794.1" r="7.3" fill="rgb(171,171,171)"/><circle cx="275.5" cy="797.8" r="6.8" fill="rgb(190,190,190)"/><circle cx="287.7" cy="794.5" r="6.8" fill="rgb(167,167,167)"/><circle cx="303.7" cy="795.5" r="6.3" fill="rgb(186,186,186)"/><circle cx="317.7" cy="797.7" r="7.3" fill="rgb(163,163,163)"/><circle cx="331.2" cy="794.8" r="7.0" fill="rgb(201,201,201)"/><circle cx="343.9" cy="797.4" r="5.7" fill="rgb(162,162,162)"/><circle cx="357.9" cy="793.9" r="6.3" fill="rgb(200,200,200)"/><circle cx="369.7" cy="794.9" r="5.5" fill="rgb(188,188,188)"/><circle cx="385.9" cy="796.1" r="6.1" fill="rgb(152,152,152)"/><circle cx="394.7" cy="796.2" r="7.1" fill="rgb(172,172,172)"/><circle cx="409.3" cy="797.1" r="7.4" fill="rgb(200,200,200)"/><circle cx="424.0" cy="796.5" r="5.5" fill="rgb(175,175,175)"/><circle cx="441.1" cy="796.9" r="7.5" fill="rgb(182,182,182)"/><circle cx="454.0" cy="795.1" r="7.2" fill="rgb(190,190,190)"/></g>
<rect x="134" y="812" width="321" height="34" fill="url(#fadeL)"/>
<g fill="#fff"><rect x="134.2" y="768.9" width="3.2" height="3.2"/><rect x="140.4" y="768.9" width="3.2" height="3.2"/><rect x="146.5" y="768.9" width="3.2" height="3.2"/><rect x="152.7" y="768.9" width="3.2" height="3.2"/><rect x="158.8" y="768.9" width="3.2" height="3.2"/><rect x="165.0" y="768.9" width="3.2" height="3.2"/><rect x="171.2" y="768.9" width="3.2" height="3.2"/><rect x="177.3" y="768.9" width="3.2" height="3.2"/><rect x="183.5" y="768.9" width="3.2" height="3.2"/><rect x="189.6" y="768.9" width="3.2" height="3.2"/><rect x="195.8" y="768.9" width="3.2" height="3.2"/><rect x="202.0" y="768.9" width="3.2" height="3.2"/><rect x="208.1" y="768.9" width="3.2" height="3.2"/><rect x="214.3" y="768.9" width="3.2" height="3.2"/><rect x="220.4" y="768.9" width="3.2" height="3.2"/><rect x="226.6" y="768.9" width="3.2" height="3.2"/><rect x="232.8" y="768.9" width="3.2" height="3.2"/><rect x="238.9" y="768.9" width="3.2" height="3.2"/><rect x="245.1" y="768.9" width="3.2" height="3.2"/><rect x="251.2" y="768.9" width="3.2" height="3.2"/><rect x="257.4" y="768.9" width="3.2" height="3.2"/><rect x="263.6" y="768.9" width="3.2" height="3.2"/><rect x="269.7" y="768.9" width="3.2" height="3.2"/><rect x="275.9" y="768.9" width="3.2" height="3.2"/><rect x="282.0" y="768.9" width="3.2" height="3.2"/><rect x="288.2" y="768.9" width="3.2" height="3.2"/><rect x="294.4" y="768.9" width="3.2" height="3.2"/><rect x="300.5" y="768.9" width="3.2" height="3.2"/><rect x="306.7" y="768.9" width="3.2" height="3.2"/><rect x="312.8" y="768.9" width="3.2" height="3.2"/><rect x="319.0" y="768.9" width="3.2" height="3.2"/><rect x="325.2" y="768.9" width="3.2" height="3.2"/><rect x="331.3" y="768.9" width="3.2" height="3.2"/><rect x="337.5" y="768.9" width="3.2" height="3.2"/><rect x="343.6" y="768.9" width="3.2" height="3.2"/><rect x="349.8" y="768.9" width="3.2" height="3.2"/><rect x="356.0" y="768.9" width="3.2" height="3.2"/><rect x="362.1" y="768.9" width="3.2" height="3.2"/><rect x="368.3" y="768.9" width="3.2" height="3.2"/><rect x="374.4" y="768.9" width="3.2" height="3.2"/><rect x="380.6" y="768.9" width="3.2" height="3.2"/><rect x="386.8" y="768.9" width="3.2" height="3.2"/><rect x="392.9" y="768.9" width="3.2" height="3.2"/><rect x="399.1" y="768.9" width="3.2" height="3.2"/><rect x="405.2" y="768.9" width="3.2" height="3.2"/><rect x="411.4" y="768.9" width="3.2" height="3.2"/><rect x="417.6" y="768.9" width="3.2" height="3.2"/><rect x="423.7" y="768.9" width="3.2" height="3.2"/><rect x="429.9" y="768.9" width="3.2" height="3.2"/><rect x="436.0" y="768.9" width="3.2" height="3.2"/><rect x="442.2" y="768.9" width="3.2" height="3.2"/><rect x="448.4" y="768.9" width="3.2" height="3.2"/><rect x="134.2" y="799.4" width="3.2" height="3.2"/><rect x="140.4" y="799.4" width="3.2" height="3.2"/><rect x="146.5" y="799.4" width="3.2" height="3.2"/><rect x="152.7" y="799.4" width="3.2" height="3.2"/><rect x="158.8" y="799.4" width="3.2" height="3.2"/><rect x="165.0" y="799.4" width="3.2" height="3.2"/><rect x="171.2" y="799.4" width="3.2" height="3.2"/><rect x="177.3" y="799.4" width="3.2" height="3.2"/><rect x="183.5" y="799.4" width="3.2" height="3.2"/><rect x="189.6" y="799.4" width="3.2" height="3.2"/><rect x="195.8" y="799.4" width="3.2" height="3.2"/><rect x="202.0" y="799.4" width="3.2" height="3.2"/><rect x="208.1" y="799.4" width="3.2" height="3.2"/><rect x="214.3" y="799.4" width="3.2" height="3.2"/><rect x="220.4" y="799.4" width="3.2" height="3.2"/><rect x="226.6" y="799.4" width="3.2" height="3.2"/><rect x="232.8" y="799.4" width="3.2" height="3.2"/><rect x="238.9" y="799.4" width="3.2" height="3.2"/><rect x="245.1" y="799.4" width="3.2" height="3.2"/><rect x="251.2" y="799.4" width="3.2" height="3.2"/><rect x="257.4" y="799.4" width="3.2" height="3.2"/><rect x="263.6" y="799.4" width="3.2" height="3.2"/><rect x="269.7" y="799.4" width="3.2" height="3.2"/><rect x="275.9" y="799.4" width="3.2" height="3.2"/><rect x="282.0" y="799.4" width="3.2" height="3.2"/><rect x="288.2" y="799.4" width="3.2" height="3.2"/><rect x="294.4" y="799.4" width="3.2" height="3.2"/><rect x="300.5" y="799.4" width="3.2" height="3.2"/><rect x="306.7" y="799.4" width="3.2" height="3.2"/><rect x="312.8" y="799.4" width="3.2" height="3.2"/><rect x="319.0" y="799.4" width="3.2" height="3.2"/><rect x="325.2" y="799.4" width="3.2" height="3.2"/><rect x="331.3" y="799.4" width="3.2" height="3.2"/><rect x="337.5" y="799.4" width="3.2" height="3.2"/><rect x="343.6" y="799.4" width="3.2" height="3.2"/><rect x="349.8" y="799.4" width="3.2" height="3.2"/><rect x="356.0" y="799.4" width="3.2" height="3.2"/><rect x="362.1" y="799.4" width="3.2" height="3.2"/><rect x="368.3" y="799.4" width="3.2" height="3.2"/><rect x="374.4" y="799.4" width="3.2" height="3.2"/><rect x="380.6" y="799.4" width="3.2" height="3.2"/><rect x="386.8" y="799.4" width="3.2" height="3.2"/><rect x="392.9" y="799.4" width="3.2" height="3.2"/><rect x="399.1" y="799.4" width="3.2" height="3.2"/><rect x="405.2" y="799.4" width="3.2" height="3.2"/><rect x="411.4" y="799.4" width="3.2" height="3.2"/><rect x="417.6" y="799.4" width="3.2" height="3.2"/><rect x="423.7" y="799.4" width="3.2" height="3.2"/><rect x="429.9" y="799.4" width="3.2" height="3.2"/><rect x="436.0" y="799.4" width="3.2" height="3.2"/><rect x="442.2" y="799.4" width="3.2" height="3.2"/><rect x="448.4" y="799.4" width="3.2" height="3.2"/></g>
</g>
<text font-size="24.8" x="165.6" y="664.8" style="fill:#fff">Pristine</text>
<!-- right TEM -->
<g clip-path="url(#tr)">
<rect x="508" y="638" width="322" height="209" fill="#2a2a2a"/>
<g mask="url(#znoclip2)"><rect x="508" y="655" width="322" height="118" filter="url(#zno2)"/></g>
<g filter="url(#qb2)"><rect x="488" y="771" width="362" height="31.5" fill="#5a5a5a"/><rect x="488" y="802.5" width="362" height="30" fill="#050505"/><circle cx="499.5" cy="780.6" r="6.8" fill="rgb(164,164,164)"/><circle cx="513.7" cy="780.7" r="6.5" fill="rgb(158,158,158)"/><circle cx="526.0" cy="782.3" r="7.1" fill="rgb(179,179,179)"/><circle cx="541.4" cy="779.9" r="6.2" fill="rgb(175,175,175)"/><circle cx="556.9" cy="783.0" r="7.0" fill="rgb(176,176,176)"/><circle cx="568.3" cy="782.5" r="8.2" fill="rgb(156,156,156)"/><circle cx="582.4" cy="780.2" r="6.1" fill="rgb(192,192,192)"/><circle cx="599.8" cy="780.4" r="8.0" fill="rgb(183,183,183)"/><circle cx="610.1" cy="784.0" r="7.1" fill="rgb(152,152,152)"/><circle cx="625.5" cy="782.3" r="7.3" fill="rgb(196,196,196)"/><circle cx="642.5" cy="780.2" r="6.3" fill="rgb(177,177,177)"/><circle cx="657.0" cy="782.0" r="6.8" fill="rgb(194,194,194)"/><circle cx="671.1" cy="782.0" r="6.3" fill="rgb(169,169,169)"/><circle cx="683.7" cy="780.8" r="7.1" fill="rgb(204,204,204)"/><circle cx="694.5" cy="779.9" r="6.7" fill="rgb(150,150,150)"/><circle cx="709.9" cy="780.6" r="7.8" fill="rgb(169,169,169)"/><circle cx="723.3" cy="779.9" r="8.1" fill="rgb(160,160,160)"/><circle cx="736.3" cy="783.2" r="6.7" fill="rgb(160,160,160)"/><circle cx="753.1" cy="780.4" r="7.3" fill="rgb(160,160,160)"/><circle cx="766.1" cy="781.1" r="6.9" fill="rgb(176,176,176)"/><circle cx="778.8" cy="782.1" r="7.5" fill="rgb(155,155,155)"/><circle cx="788.6" cy="782.5" r="7.1" fill="rgb(182,182,182)"/><circle cx="803.1" cy="780.3" r="6.7" fill="rgb(158,158,158)"/><circle cx="813.5" cy="783.5" r="8.1" fill="rgb(170,170,170)"/><circle cx="829.9" cy="783.1" r="6.1" fill="rgb(189,189,189)"/><circle cx="505.9" cy="797.2" r="6.4" fill="rgb(187,187,187)"/><circle cx="518.6" cy="797.4" r="7.3" fill="rgb(162,162,162)"/><circle cx="531.8" cy="798.2" r="6.2" fill="rgb(157,157,157)"/><circle cx="546.8" cy="797.4" r="7.6" fill="rgb(182,182,182)"/><circle cx="557.6" cy="795.5" r="7.0" fill="rgb(173,173,173)"/><circle cx="572.3" cy="798.0" r="7.6" fill="rgb(163,163,163)"/><circle cx="583.2" cy="799.6" r="7.8" fill="rgb(173,173,173)"/><circle cx="599.2" cy="796.2" r="7.1" fill="rgb(188,188,188)"/><circle cx="611.1" cy="796.2" r="6.8" fill="rgb(183,183,183)"/><circle cx="624.9" cy="799.4" r="8.0" fill="rgb(168,168,168)"/><circle cx="638.7" cy="797.1" r="7.4" fill="rgb(164,164,164)"/><circle cx="657.0" cy="797.6" r="8.1" fill="rgb(201,201,201)"/><circle cx="669.4" cy="799.0" r="7.7" fill="rgb(172,172,172)"/><circle cx="683.0" cy="799.3" r="6.8" fill="rgb(173,173,173)"/><circle cx="696.6" cy="798.3" r="7.3" fill="rgb(175,175,175)"/><circle cx="712.1" cy="797.9" r="6.8" fill="rgb(196,196,196)"/><circle cx="726.4" cy="799.0" r="7.1" fill="rgb(162,162,162)"/><circle cx="740.6" cy="799.7" r="7.1" fill="rgb(154,154,154)"/><circle cx="753.6" cy="796.6" r="7.8" fill="rgb(189,189,189)"/><circle cx="772.0" cy="798.1" r="6.6" fill="rgb(182,182,182)"/><circle cx="783.9" cy="798.6" r="8.1" fill="rgb(165,165,165)"/><circle cx="795.6" cy="796.2" r="7.8" fill="rgb(202,202,202)"/><circle cx="809.0" cy="798.2" r="7.7" fill="rgb(156,156,156)"/><circle cx="826.0" cy="795.9" r="8.0" fill="rgb(177,177,177)"/><circle cx="837.8" cy="797.3" r="6.6" fill="rgb(193,193,193)"/></g>
<rect x="508" y="814" width="322" height="33" fill="#050505"/>
<g fill="#fff"><rect x="511.2" y="769.1" width="3.2" height="3.2"/><rect x="517.4" y="769.1" width="3.2" height="3.2"/><rect x="523.5" y="769.1" width="3.2" height="3.2"/><rect x="529.7" y="769.1" width="3.2" height="3.2"/><rect x="535.8" y="769.1" width="3.2" height="3.2"/><rect x="542.0" y="769.1" width="3.2" height="3.2"/><rect x="548.2" y="769.1" width="3.2" height="3.2"/><rect x="554.3" y="769.1" width="3.2" height="3.2"/><rect x="560.5" y="769.1" width="3.2" height="3.2"/><rect x="566.6" y="769.1" width="3.2" height="3.2"/><rect x="572.8" y="769.1" width="3.2" height="3.2"/><rect x="579.0" y="769.1" width="3.2" height="3.2"/><rect x="585.1" y="769.1" width="3.2" height="3.2"/><rect x="591.3" y="769.1" width="3.2" height="3.2"/><rect x="597.4" y="769.1" width="3.2" height="3.2"/><rect x="603.6" y="769.1" width="3.2" height="3.2"/><rect x="609.8" y="769.1" width="3.2" height="3.2"/><rect x="615.9" y="769.1" width="3.2" height="3.2"/><rect x="622.1" y="769.1" width="3.2" height="3.2"/><rect x="628.2" y="769.1" width="3.2" height="3.2"/><rect x="634.4" y="769.1" width="3.2" height="3.2"/><rect x="640.6" y="769.1" width="3.2" height="3.2"/><rect x="646.7" y="769.1" width="3.2" height="3.2"/><rect x="652.9" y="769.1" width="3.2" height="3.2"/><rect x="659.0" y="769.1" width="3.2" height="3.2"/><rect x="665.2" y="769.1" width="3.2" height="3.2"/><rect x="671.4" y="769.1" width="3.2" height="3.2"/><rect x="677.5" y="769.1" width="3.2" height="3.2"/><rect x="683.7" y="769.1" width="3.2" height="3.2"/><rect x="689.8" y="769.1" width="3.2" height="3.2"/><rect x="696.0" y="769.1" width="3.2" height="3.2"/><rect x="702.2" y="769.1" width="3.2" height="3.2"/><rect x="708.3" y="769.1" width="3.2" height="3.2"/><rect x="714.5" y="769.1" width="3.2" height="3.2"/><rect x="720.6" y="769.1" width="3.2" height="3.2"/><rect x="726.8" y="769.1" width="3.2" height="3.2"/><rect x="733.0" y="769.1" width="3.2" height="3.2"/><rect x="739.1" y="769.1" width="3.2" height="3.2"/><rect x="745.3" y="769.1" width="3.2" height="3.2"/><rect x="751.4" y="769.1" width="3.2" height="3.2"/><rect x="757.6" y="769.1" width="3.2" height="3.2"/><rect x="763.8" y="769.1" width="3.2" height="3.2"/><rect x="769.9" y="769.1" width="3.2" height="3.2"/><rect x="776.1" y="769.1" width="3.2" height="3.2"/><rect x="782.2" y="769.1" width="3.2" height="3.2"/><rect x="788.4" y="769.1" width="3.2" height="3.2"/><rect x="794.6" y="769.1" width="3.2" height="3.2"/><rect x="800.7" y="769.1" width="3.2" height="3.2"/><rect x="806.9" y="769.1" width="3.2" height="3.2"/><rect x="813.0" y="769.1" width="3.2" height="3.2"/><rect x="819.2" y="769.1" width="3.2" height="3.2"/><rect x="825.4" y="769.1" width="3.2" height="3.2"/><rect x="511.2" y="799.4" width="3.2" height="3.2"/><rect x="517.4" y="799.4" width="3.2" height="3.2"/><rect x="523.5" y="799.4" width="3.2" height="3.2"/><rect x="529.7" y="799.4" width="3.2" height="3.2"/><rect x="535.8" y="799.4" width="3.2" height="3.2"/><rect x="542.0" y="799.4" width="3.2" height="3.2"/><rect x="548.2" y="799.4" width="3.2" height="3.2"/><rect x="554.3" y="799.4" width="3.2" height="3.2"/><rect x="560.5" y="799.4" width="3.2" height="3.2"/><rect x="566.6" y="799.4" width="3.2" height="3.2"/><rect x="572.8" y="799.4" width="3.2" height="3.2"/><rect x="579.0" y="799.4" width="3.2" height="3.2"/><rect x="585.1" y="799.4" width="3.2" height="3.2"/><rect x="591.3" y="799.4" width="3.2" height="3.2"/><rect x="597.4" y="799.4" width="3.2" height="3.2"/><rect x="603.6" y="799.4" width="3.2" height="3.2"/><rect x="609.8" y="799.4" width="3.2" height="3.2"/><rect x="615.9" y="799.4" width="3.2" height="3.2"/><rect x="622.1" y="799.4" width="3.2" height="3.2"/><rect x="628.2" y="799.4" width="3.2" height="3.2"/><rect x="634.4" y="799.4" width="3.2" height="3.2"/><rect x="640.6" y="799.4" width="3.2" height="3.2"/><rect x="646.7" y="799.4" width="3.2" height="3.2"/><rect x="652.9" y="799.4" width="3.2" height="3.2"/><rect x="659.0" y="799.4" width="3.2" height="3.2"/><rect x="665.2" y="799.4" width="3.2" height="3.2"/><rect x="671.4" y="799.4" width="3.2" height="3.2"/><rect x="677.5" y="799.4" width="3.2" height="3.2"/><rect x="683.7" y="799.4" width="3.2" height="3.2"/><rect x="689.8" y="799.4" width="3.2" height="3.2"/><rect x="696.0" y="799.4" width="3.2" height="3.2"/><rect x="702.2" y="799.4" width="3.2" height="3.2"/><rect x="708.3" y="799.4" width="3.2" height="3.2"/><rect x="714.5" y="799.4" width="3.2" height="3.2"/><rect x="720.6" y="799.4" width="3.2" height="3.2"/><rect x="726.8" y="799.4" width="3.2" height="3.2"/><rect x="733.0" y="799.4" width="3.2" height="3.2"/><rect x="739.1" y="799.4" width="3.2" height="3.2"/><rect x="745.3" y="799.4" width="3.2" height="3.2"/><rect x="751.4" y="799.4" width="3.2" height="3.2"/><rect x="757.6" y="799.4" width="3.2" height="3.2"/><rect x="763.8" y="799.4" width="3.2" height="3.2"/><rect x="769.9" y="799.4" width="3.2" height="3.2"/><rect x="776.1" y="799.4" width="3.2" height="3.2"/><rect x="782.2" y="799.4" width="3.2" height="3.2"/><rect x="788.4" y="799.4" width="3.2" height="3.2"/><rect x="794.6" y="799.4" width="3.2" height="3.2"/><rect x="800.7" y="799.4" width="3.2" height="3.2"/><rect x="806.9" y="799.4" width="3.2" height="3.2"/><rect x="813.0" y="799.4" width="3.2" height="3.2"/><rect x="819.2" y="799.4" width="3.2" height="3.2"/><rect x="825.4" y="799.4" width="3.2" height="3.2"/></g>
</g>
<text font-size="24.9" x="525.7" y="663.8" style="fill:#fff">Calendar aged</text>
<text font-size="24.2" x="843.5" y="730.7">ZnO</text>
<text font-size="24.2" x="843" y="796.1">QDs</text>
<text font-size="24.2" x="847" y="837.4">TFB</text>

</svg>
</body></html>
